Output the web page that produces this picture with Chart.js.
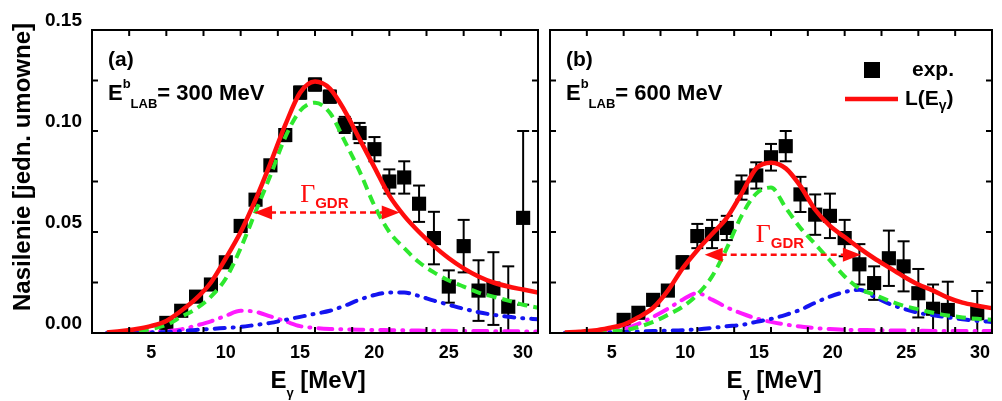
<!DOCTYPE html>
<html>
<head>
<meta charset="utf-8">
<script src="https://cdn.jsdelivr.net/npm/chart.js@4.4.1/dist/chart.umd.min.js"></script>
<style>
body{margin:0;background:#fff;}
#wrap{position:relative;width:1002px;height:401px;}
canvas{position:absolute;top:0;}
#panelA{left:0;}
#panelB{left:540px;}
</style>
</head>
<body>
<div id="wrap">
<canvas id="panelA" width="548" height="401"></canvas>
<canvas id="panelB" width="462" height="401"></canvas>
</div>
<script>
//rejilla de energia para las curvas (MeV)
const energia = [1,2,3,4,5,6,7,8,9,10,11,12,13,14,15,16,17,18,19,20,21,22,23,24,25,26,27,28,29,30]

//panel (a) E_LAB = 300 MeV
const expE_a = [5,6,7,8,9,10,11,12,13,14,15,16,17,18,19,20,21,22,23,24,25,26,27,28,29]
const expY_a = [0.005,0.011,0.018,0.024,0.035,0.053,0.066,0.083,0.098,0.119,0.123,0.117,0.103,0.099,0.091,0.075,0.077,0.064,0.047,0.023,0.043,0.021,0.022,0.013,0.057]
const expErr_a = [0.001,0.001,0.002,0.002,0.002,0.002,0.002,0.002,0.003,0.003,0.003,0.003,0.004,0.005,0.006,0.006,0.008,0.009,0.013,0.008,0.013,0.015,0.018,0.020,0.043]
const lorentz_a = [0.0003,0.001,0.002,0.0035,0.006,0.011,0.017,0.025,0.037,0.050,0.066,0.084,0.103,0.119,0.1245,0.121,0.110,0.096,0.082,0.068,0.058,0.050,0.043,0.037,0.032,0.028,0.025,0.023,0.0215,0.020]
const gdr_a = [0,0.0005,0.001,0.002,0.004,0.008,0.012,0.018,0.027,0.042,0.060,0.078,0.097,0.110,0.114,0.109,0.095,0.080,0.063,0.050,0.042,0.035,0.030,0.026,0.023,0.020,0.018,0.016,0.014,0.0125]
const azul_a = [0,0,0,0.0003,0.0005,0.001,0.0015,0.002,0.0025,0.003,0.004,0.005,0.0065,0.008,0.0095,0.011,0.0135,0.0165,0.0188,0.020,0.020,0.0183,0.016,0.014,0.012,0.0103,0.009,0.008,0.0073,0.0068]
const magenta_a = [0,0,0.0002,0.0004,0.0009,0.0018,0.0037,0.0058,0.0085,0.011,0.0105,0.0082,0.0058,0.0034,0.0025,0.002,0.0018,0.0016,0.0015,0.0014,0.0013,0.0012,0.0011,0.0011,0.001,0.001,0.0009,0.0009,0.0008,0.0008]
const flecha_a = [10.9, 20.7, 0.0596]   //x1, x2, y
const gammaPos_a = [14.0, 0.065]

//panel (b) E_LAB = 600 MeV
const expE_b = [5,6,7,8,9,10,11,12,13,14,15,16,17,18,19,20,21,22,23,24,25,26,27,29]
const expY_b = [0.0065,0.010,0.0164,0.021,0.035,0.048,0.049,0.052,0.072,0.078,0.087,0.0925,0.0686,0.0586,0.058,0.047,0.034,0.0247,0.037,0.033,0.0197,0.012,0.0114,0.0098]
const expErr_b = [0.001,0.001,0.0015,0.002,0.003,0.006,0.007,0.006,0.006,0.0065,0.0066,0.0075,0.0087,0.010,0.011,0.009,0.010,0.0083,0.0137,0.0124,0.012,0.012,0.014,0.011]
const lorentz_b = [0.0003,0.0006,0.0012,0.0025,0.0042,0.0078,0.0125,0.021,0.032,0.041,0.049,0.057,0.069,0.0815,0.0843,0.0815,0.0727,0.061,0.053,0.0475,0.042,0.037,0.0325,0.028,0.024,0.021,0.0175,0.015,0.0135,0.0123]
const gdr_b = [0,0,0.0003,0.0007,0.0013,0.003,0.0055,0.009,0.013,0.019,0.028,0.042,0.058,0.069,0.072,0.062,0.052,0.044,0.036,0.028,0.022,0.019,0.016,0.0135,0.0117,0.010,0.0087,0.0077,0.007,0.0065]
const azul_b = [0,0,0,0.0002,0.0005,0.0007,0.001,0.0012,0.0014,0.0018,0.0025,0.0033,0.004,0.0055,0.007,0.009,0.0115,0.015,0.018,0.0203,0.0214,0.018,0.0145,0.012,0.010,0.0088,0.0077,0.0068,0.006,0.0055]
const magenta_b = [0,0,0.0003,0.001,0.002,0.0045,0.008,0.012,0.0165,0.0197,0.0165,0.0127,0.0097,0.0072,0.0055,0.0042,0.0032,0.0024,0.002,0.0016,0.0015,0.0014,0.0013,0.0012,0.0011,0.001,0.001,0.001,0.001,0.001]
const flecha_b = [10.5, 21.1, 0.0387]
const gammaPos_b = [13.97, 0.0452]

//ejes
const xLabels = [5,10,15,20,25,30]
const yLabels = [0.00,0.05,0.10,0.15]

const SANS = "'Liberation Sans', Arial, sans-serif"
const ROJO = '#ff0d0d'

function pares(xs, ys){
    return xs.map((x,i)=>({x:x, y:ys[i]}))
}

function linea(ctx,x1,y1,x2,y2){
    ctx.beginPath(); ctx.moveTo(x1,y1); ctx.lineTo(x2,y2); ctx.stroke()
}

//texto con sub/superindices: [texto, tamaño, dy, fuente opcional]
function textoRico(ctx, x, y, partes, centrado){
    let total = 0
    partes.forEach(p=>{
        ctx.font = p[3] || `bold ${p[1]}px ${SANS}`
        p.w = ctx.measureText(p[0]).width
        total += p.w
    })
    let cx = centrado ? x - total/2 : x
    ctx.textAlign = 'left'
    ctx.textBaseline = 'alphabetic'
    partes.forEach(p=>{
        ctx.font = p[3] || `bold ${p[1]}px ${SANS}`
        ctx.fillText(p[0], cx, y + p[2])
        cx += p.w
    })
}

const decor = {
    id:'decor',
    beforeDatasetsDraw(chart, args, opts){
        //barras de error debajo de todo
        const ctx = chart.ctx, xs = chart.scales.x, ys = chart.scales.y, a = chart.chartArea
        ctx.save()
        ctx.beginPath(); ctx.rect(a.left, a.top, a.right-a.left, a.bottom-a.top); ctx.clip()
        ctx.strokeStyle = '#000'; ctx.lineWidth = 2
        chart.data.datasets.forEach(ds=>{
            if(!ds.errors) return
            ds.data.forEach((p,i)=>{
                const px = xs.getPixelForValue(p.x)
                const y1 = ys.getPixelForValue(p.y - ds.errors[i])
                const y2 = ys.getPixelForValue(p.y + ds.errors[i])
                linea(ctx, px, y1, px, y2)
                linea(ctx, px-6, y1, px+6, y1)
                linea(ctx, px-6, y2, px+6, y2)
            })
        })
        ctx.restore()
    },
    afterDraw(chart, args, opts){
        const ctx = chart.ctx, xs = chart.scales.x, ys = chart.scales.y, a = chart.chartArea
        ctx.save()
        //marco y ticks hacia dentro
        ctx.strokeStyle = '#000'; ctx.lineWidth = 2
        ctx.strokeRect(a.left, a.top, a.right-a.left, a.bottom-a.top)
        for(let v=0; v<=30; v+=2.5){
            const px = xs.getPixelForValue(v)
            linea(ctx, px, a.bottom, px, a.bottom-6)
            linea(ctx, px, a.top, px, a.top+6)
        }
        for(let v=0; v<=0.1501; v+=0.025){
            const py = ys.getPixelForValue(v)
            linea(ctx, a.left, py, a.left+6, py)
            linea(ctx, a.right, py, a.right-6, py)
        }

        //flecha Gamma_GDR
        const f = opts.flecha
        const x1 = xs.getPixelForValue(f[0]), x2 = xs.getPixelForValue(f[1]), fy = ys.getPixelForValue(f[2])
        ctx.strokeStyle = ROJO; ctx.fillStyle = ROJO; ctx.lineWidth = 2.5
        ctx.setLineDash([6,4])
        linea(ctx, x1+16, fy, x2-16, fy)
        ctx.setLineDash([])
        ctx.beginPath(); ctx.moveTo(x1,fy); ctx.lineTo(x1+18,fy-7); ctx.lineTo(x1+18,fy+7); ctx.closePath(); ctx.fill()
        ctx.beginPath(); ctx.moveTo(x2,fy); ctx.lineTo(x2-18,fy-7); ctx.lineTo(x2-18,fy+7); ctx.closePath(); ctx.fill()
        textoRico(ctx, xs.getPixelForValue(opts.gamma[0]), ys.getPixelForValue(opts.gamma[1]),
            [['Γ',26,0,"26px 'Liberation Serif', 'Times New Roman', serif"],['GDR',15,6]])

        //textos en coordenadas de pagina
        ctx.translate(-opts.offsetX, 0)
        ctx.fillStyle = '#000'
        textoRico(ctx, opts.offsetX + a.left + 16, 66, [[opts.etiqueta,21,0]])
        textoRico(ctx, opts.offsetX + a.left + 16, 100, [['E',22,0],['b',13,-12],['LAB',13,8],['= ' + opts.energia + ' MeV',22,0]])

        //titulo del eje x
        textoRico(ctx, opts.offsetX + (a.left+a.right)/2 + 3, 388, [['E',24,0],['γ',13,9],[' [MeV]',24,0]], true)

        if(opts.tituloY){
            ctx.save()
            ctx.translate(30, 167)
            ctx.rotate(-Math.PI/2)
            ctx.font = `bold 24px ${SANS}`
            ctx.textAlign = 'center'
            ctx.fillText('Nasilenie [jedn. umowne]', 0, 0)
            ctx.restore()
        }

        if(opts.leyenda){
            ctx.fillStyle = '#000'
            ctx.fillRect(864, 62, 16, 16)
            textoRico(ctx, 912, 76, [['exp.',21,0]])
            ctx.strokeStyle = ROJO; ctx.lineWidth = 4.5
            linea(ctx, 845, 99, 898, 99)
            textoRico(ctx, 905, 105, [['L(E',21,0],['γ',14,5],[')',21,0]])
        }
        ctx.restore()
    }
}

function crearPanel(id, d, cfg){
    const ctx = document.getElementById(id).getContext('2d')
    const curva = (vals, color, dash, w, cap)=>({
        data: pares(energia, vals),
        showLine:true, borderColor:color, borderWidth:w, borderDash:dash,
        borderCapStyle:cap, pointRadius:0, fill:false, cubicInterpolationMode:'monotone'
    })
    return new Chart(ctx,{
        type:'scatter',
        data:{
            datasets:[
                curva(d.lorentz, ROJO, [], 4.5, 'butt'),
                curva(d.gdr, '#2ee82e', [10,6], 4, 'butt'),
                curva(d.azul, '#1414f0', [10,8,1,8], 4, 'round'),
                curva(d.magenta, '#ff1aff', [14,8,1,8], 4, 'round'),
                {
                    data: pares(d.expE, d.expY),
                    errors: d.expErr,
                    pointStyle:'rect', pointRadius:10, backgroundColor:'#000', borderWidth:0
                }
            ]
        },
        options:{
            responsive:false,
            animation:false,
            events:[],
            layout:{padding:cfg.padding},
            plugins:{
                legend:{display:false},
                tooltip:{enabled:false},
                decor:cfg.decor
            },
            scales:{
                x:{
                    type:'linear', min:0, max:30,
                    grid:{display:false, drawTicks:false},
                    border:{display:false},
                    ticks:{
                        stepSize:2.5, autoSkip:false, maxRotation:0, padding:9,
                        labelOffset:cfg.xOffset, color:'#000',
                        font:{family:SANS, size:18, weight:'bold'},
                        callback:v=> xLabels.includes(v) ? String(v) : ''
                    },
                    afterFit:s=>{ s.height = 68; s.paddingLeft = 0; s.paddingRight = 0 }
                },
                y:{
                    type:'linear', min:0, max:0.15,
                    grid:{display:false, drawTicks:false},
                    border:{display:false},
                    ticks:{
                        display:cfg.yLabels, stepSize:0.025, autoSkip:false, padding:10,
                        labelOffset:-9, color:'#000',
                        font:{family:SANS, size:19, weight:'bold'},
                        callback:v=> yLabels.some(t=>Math.abs(t-v)<1e-6) ? v.toFixed(2) : ''
                    },
                    afterFit:s=>{ s.width = cfg.yLabels ? 92 : 0; s.paddingTop = 0; s.paddingBottom = 0 }
                }
            }
        },
        plugins:[decor]
    })
}

crearPanel('panelA',
    {expE:expE_a, expY:expY_a, expErr:expErr_a, lorentz:lorentz_a, gdr:gdr_a, azul:azul_a, magenta:magenta_a},
    {padding:{top:30,left:0,right:3,bottom:0}, xOffset:-15, yLabels:true,
     decor:{offsetX:0, etiqueta:'(a)', energia:'300', flecha:flecha_a, gamma:gammaPos_a, tituloY:true, leyenda:false}})

crearPanel('panelB',
    {expE:expE_b, expY:expY_b, expErr:expErr_b, lorentz:lorentz_b, gdr:gdr_b, azul:azul_b, magenta:magenta_b},
    {padding:{top:30,left:5,right:6,bottom:0}, xOffset:-12, yLabels:false,
     decor:{offsetX:540, etiqueta:'(b)', energia:'600', flecha:flecha_b, gamma:gammaPos_b, tituloY:false, leyenda:true}})
</script>
</body>
</html>
